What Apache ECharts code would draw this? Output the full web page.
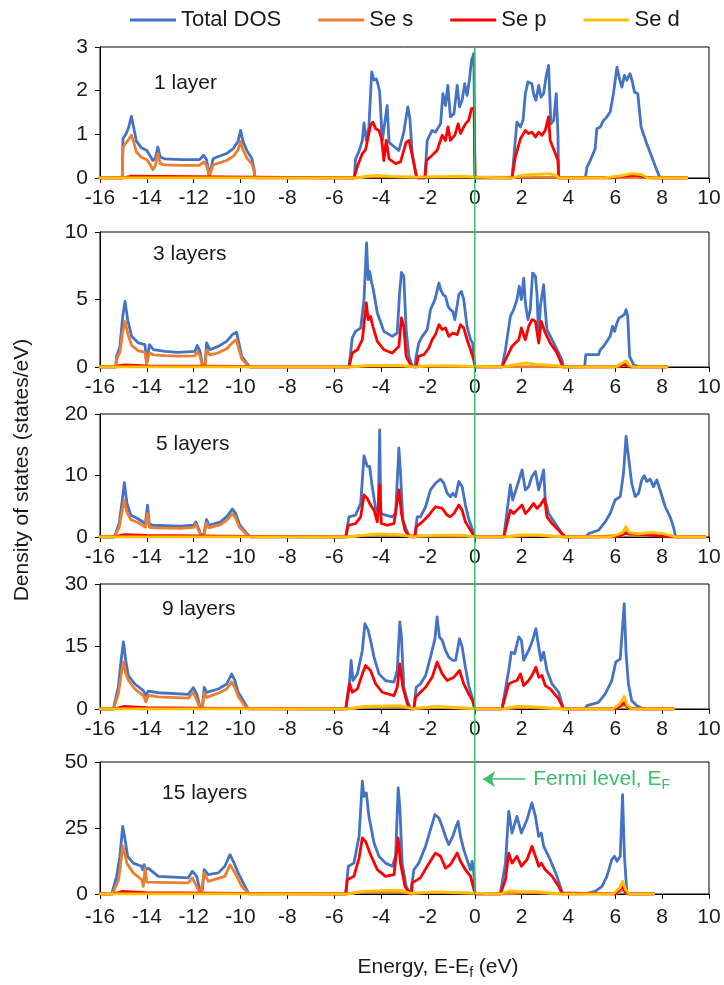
<!DOCTYPE html>
<html>
<head>
<meta charset="utf-8">
<script src="https://cdn.jsdelivr.net/npm/echarts@6/dist/echarts.min.js"></script>
<style>
  html, body { margin: 0; padding: 0; background: #fff; }
  #chart { width: 724px; height: 985px; }
</style>
</head>
<body>
<div id="chart"></div>
<script>
// panel settings
const panelLabels = ['1 layer', '3 layers', '5 layers', '9 layers', '15 layers'];
const yMax = [3, 10, 20, 30, 50];
const yStep = [1, 5, 10, 15, 25];
const seriesNames = ['Total DOS', 'Se s', 'Se p', 'Se d'];

// 1 layer
const total1 = [[-16,0],[-15.05,0],[-15.02,0.9],[-14.9,1.0],[-14.78,1.15],[-14.66,1.41],[-14.56,1.15],[-14.45,0.85],[-14.25,0.7],[-14.0,0.63],[-13.85,0.5],[-13.75,0.4],[-13.64,0.45],[-13.53,0.71],[-13.43,0.48],[-13.25,0.44],[-12.5,0.42],[-11.75,0.42],[-11.58,0.52],[-11.45,0.42],[-11.33,0.05],[-11.25,0.02],[-11.17,0.44],[-11.0,0.48],[-10.6,0.56],[-10.3,0.68],[-10.1,0.85],[-10.0,1.09],[-9.9,0.85],[-9.72,0.62],[-9.52,0.45],[-9.42,0.2],[-9.38,0],
  [-5.14,0],[-5.09,0.44],[-4.95,0.6],[-4.8,0.86],[-4.73,1.26],[-4.63,0.86],[-4.52,1.17],[-4.4,2.43],[-4.3,2.24],[-4.2,2.27],[-4.12,2.12],[-4.06,1.97],[-3.95,0.86],[-3.85,1.24],[-3.74,1.66],[-3.66,0.82],[-3.52,0.75],[-3.24,0.63],[-3.03,1.05],[-2.86,1.63],[-2.77,1.36],[-2.67,0.56],[-2.5,0.06],[-2.45,0],
  [-2.13,0],[-2.03,0.86],[-1.82,1.09],[-1.68,1.05],[-1.46,1.24],[-1.36,1.93],[-1.25,1.66],[-1.15,2.12],[-1.04,1.4],[-0.89,1.47],[-0.75,2.12],[-0.65,1.63],[-0.54,1.78],[-0.43,2.16],[-0.33,1.89],[-0.23,2.24],[-0.14,2.69],[-0.04,2.85],[0.01,0],
  [1.59,0],[1.73,0.86],[1.8,1.28],[1.95,1.17],[2.06,1.32],[2.16,1.93],[2.27,2.2],[2.44,2.16],[2.51,1.93],[2.61,1.78],[2.73,2.12],[2.83,1.85],[2.94,1.93],[3.04,2.31],[3.15,2.58],[3.25,1.24],[3.37,1.32],[3.48,1.93],[3.55,1.02],[3.58,0],
  [4.72,0],[4.79,0.25],[4.93,0.4],[5.14,0.67],[5.21,1.13],[5.36,1.17],[5.5,1.32],[5.64,1.4],[5.78,1.51],[5.92,1.93],[6.07,2.54],[6.16,2.31],[6.28,2.08],[6.39,2.35],[6.49,2.24],[6.63,2.39],[6.73,2.2],[6.82,1.97],[6.96,1.93],[7.1,1.17],[7.34,0.79],[7.56,0.48],[7.77,0.18],[7.91,0],[9.05,0]];
const s1 = [[-16,0],[-15.05,0],[-15.02,0.7],[-14.9,0.8],[-14.78,0.88],[-14.66,0.98],[-14.56,0.82],[-14.45,0.6],[-14.25,0.48],[-14.0,0.42],[-13.85,0.3],[-13.75,0.19],[-13.64,0.28],[-13.53,0.56],[-13.43,0.33],[-13.25,0.3],[-12.5,0.29],[-11.75,0.29],[-11.58,0.37],[-11.45,0.29],[-11.33,0.03],[-11.25,0.01],[-11.17,0.3],[-11.0,0.33],[-10.6,0.4],[-10.3,0.5],[-10.1,0.65],[-10.0,0.84],[-9.9,0.65],[-9.72,0.45],[-9.52,0.33],[-9.42,0.15],[-9.38,0],[-5.1,0],[-4.4,0.03],[-3.0,0.02],[0,0.02],[0.01,0],[9.05,0]];
const p1 = [[-16,0],[-15.05,0],[-15.0,0.03],[-14.7,0.04],[-9.45,0.02],[-9.38,0],
  [-5.16,0],[-5.01,0.27],[-4.8,0.56],[-4.66,0.65],[-4.45,1.21],[-4.35,1.28],[-4.23,1.13],[-4.09,1.09],[-3.98,0.9],[-3.88,0.4],[-3.78,0.86],[-3.66,0.44],[-3.38,0.33],[-3.17,0.37],[-2.93,0.82],[-2.81,0.86],[-2.67,0.52],[-2.5,0.06],[-2.45,0],
  [-2.13,0],[-2.06,0.4],[-1.82,0.52],[-1.61,0.63],[-1.39,0.98],[-1.25,0.86],[-1.14,1.17],[-1.04,0.86],[-0.85,0.98],[-0.71,1.24],[-0.61,1.02],[-0.4,1.24],[-0.26,1.32],[-0.14,1.59],[-0.03,1.6],[0.01,0],
  [1.59,0],[1.73,0.48],[1.95,0.9],[2.16,1.09],[2.3,1.02],[2.44,1.05],[2.59,0.94],[2.73,1.05],[2.87,0.98],[3.01,1.09],[3.15,1.4],[3.22,0.86],[3.44,0.56],[3.55,0.4],[3.58,0],
  [5.8,0],[6.2,0.04],[6.9,0.06],[7.3,0.02],[7.6,0],[9.05,0]];
const d1 = [[-16,0],[-5.1,0],[-4.6,0.04],[-4.2,0.06],[-3.5,0.03],[-2.5,0.02],[-1.5,0.03],[-0.5,0.04],[0,0.02],[0.01,0],[1.6,0],[2.0,0.06],[2.6,0.08],[3.2,0.1],[3.5,0.05],[3.6,0],[5.5,0],[6.2,0.05],[6.7,0.1],[7.1,0.08],[7.4,0],[9.05,0]];

// 3 layers
const total2 = [[-16,0],[-15.33,0],[-15.29,0.79],[-15.15,1.53],[-15.03,3.75],[-14.93,4.86],[-14.82,3.51],[-14.65,2.27],[-14.36,1.78],[-14.08,1.65],[-14.01,0.3],[-13.89,1.65],[-13.72,1.28],[-13.23,1.16],[-12.66,1.09],[-11.95,1.16],[-11.85,1.6],[-11.73,1.16],[-11.63,0.17],[-11.52,0.05],[-11.45,1.78],[-11.31,1.28],[-10.95,1.53],[-10.59,1.9],[-10.35,2.4],[-10.17,2.57],[-10.1,2.02],[-9.95,0.79],[-9.74,0.3],[-9.6,0],
  [-5.37,0],[-5.23,2.15],[-5.09,2.64],[-4.87,2.89],[-4.73,4.99],[-4.62,9.19],[-4.55,6.47],[-4.49,7.09],[-4.4,6.22],[-4.33,5.73],[-4.16,4.0],[-3.88,2.64],[-3.52,2.27],[-3.31,2.52],[-3.21,5.48],[-3.13,7.01],[-3.03,6.72],[-2.93,2.77],[-2.81,0.79],[-2.67,0.05],[-2.6,0],
  [-2.56,0],[-2.5,0.79],[-2.39,1.78],[-2.24,2.27],[-2.03,2.77],[-1.89,4.25],[-1.7,4.99],[-1.53,6.22],[-1.46,5.73],[-1.35,5.36],[-1.25,5.23],[-1.14,4.49],[-1.04,4.25],[-0.94,4.12],[-0.85,3.51],[-0.68,5.36],[-0.57,5.6],[-0.47,4.99],[-0.33,3.01],[-0.18,2.02],[-0.09,1.78],[0,0],
  [1.16,0],[1.31,1.28],[1.52,3.75],[1.66,4.25],[1.8,4.99],[1.9,5.98],[1.99,4.99],[2.09,6.59],[2.16,4.74],[2.27,3.51],[2.37,4.25],[2.47,6.96],[2.59,6.72],[2.66,5.36],[2.73,2.0],[2.8,4.5],[2.94,6.1],[3.01,4.25],[3.08,2.77],[3.3,2.02],[3.51,1.28],[3.72,0.54],[3.79,0],
  [4.69,0],[4.74,0.91],[5.28,0.91],[5.36,1.28],[5.5,1.53],[5.64,1.9],[5.78,2.27],[5.88,3.01],[5.97,2.64],[6.07,3.26],[6.16,3.63],[6.28,3.75],[6.38,3.88],[6.46,4.25],[6.53,3.75],[6.61,0.79],[6.78,0.17],[7.06,0],[8.2,0]];
const s2 = [[-16,0],[-15.33,0],[-15.29,0.6],[-15.15,1.1],[-15.03,2.6],[-14.93,3.37],[-14.82,2.5],[-14.65,1.6],[-14.36,1.2],[-14.08,1.1],[-14.01,0.2],[-13.89,1.05],[-13.72,0.9],[-13.23,0.85],[-12.66,0.8],[-11.95,0.82],[-11.85,1.15],[-11.73,0.82],[-11.63,0.1],[-11.52,0.03],[-11.45,1.25],[-11.31,0.9],[-10.95,1.05],[-10.59,1.35],[-10.35,1.8],[-10.17,2.02],[-10.1,1.5],[-9.95,0.6],[-9.74,0.2],[-9.6,0],[-5.4,0],[-4.62,0.08],[-3.13,0.06],[-1.5,0.05],[0,0.03],[0.01,0],[6.1,0],[6.45,0.2],[6.6,0],[8.2,0]];
const p2 = [[-16,0],[-15.33,0],[-15.2,0.1],[-14.93,0.15],[-14.0,0.08],[-9.7,0.05],[-9.6,0],
  [-5.37,0],[-5.23,1.04],[-5.01,1.28],[-4.8,2.02],[-4.63,4.74],[-4.55,3.51],[-4.45,3.75],[-4.35,3.01],[-4.16,1.9],[-3.88,1.28],[-3.52,1.04],[-3.24,1.53],[-3.13,3.63],[-3.03,3.01],[-2.93,0.79],[-2.74,0.17],[-2.6,0],
  [-2.5,0],[-2.41,0.79],[-2.17,0.91],[-1.96,1.41],[-1.82,2.02],[-1.68,2.4],[-1.53,3.14],[-1.39,2.77],[-1.25,2.89],[-1.11,2.27],[-0.94,2.52],[-0.75,2.4],[-0.61,3.14],[-0.47,2.89],[-0.33,2.02],[-0.18,1.28],[-0.04,0.54],[0.01,0],
  [1.16,0],[1.59,1.53],[1.88,2.02],[1.99,2.89],[2.16,2.02],[2.3,3.01],[2.44,3.51],[2.59,3.38],[2.73,1.78],[2.84,3.38],[3.01,2.52],[3.22,1.78],[3.51,1.04],[3.72,0.17],[3.76,0],
  [6.0,0],[6.4,0.2],[6.6,0],[8.2,0]];
const d2 = [[-16,0],[-5.3,0],[-4.6,0.1],[-3.2,0.12],[-2.6,0],[-2.5,0],[-2.0,0.08],[-1.0,0.1],[0,0.05],[0.01,0],[1.2,0],[1.5,0.1],[2.2,0.3],[2.6,0.2],[3.5,0.1],[3.8,0],[6.0,0],[6.3,0.3],[6.45,0.45],[6.6,0.1],[6.8,0],[8.2,0]];

// 5 layers
const total3 = [[-16,0],[-15.39,0],[-15.18,2.19],[-15.04,6.28],[-14.96,8.85],[-14.85,5.46],[-14.68,3.55],[-14.4,3.0],[-14.06,2.19],[-13.97,5.19],[-13.9,2.19],[-13.76,1.91],[-12.55,1.75],[-12.0,1.91],[-11.91,2.46],[-11.82,1.64],[-11.67,0.16],[-11.56,0.55],[-11.45,2.84],[-11.35,1.91],[-10.85,2.46],[-10.57,3.39],[-10.35,4.54],[-10.21,3.83],[-10.03,1.91],[-9.79,0.82],[-9.57,0],
  [-5.51,0],[-5.37,3.28],[-5.09,3.55],[-4.87,5.46],[-4.73,13.2],[-4.59,11.5],[-4.49,11.5],[-4.38,8.2],[-4.23,4.64],[-4.12,4.1],[-4.06,17.4],[-4.01,3.83],[-3.81,3.55],[-3.52,3.28],[-3.38,3.83],[-3.24,14.5],[-3.17,10.4],[-3.07,2.73],[-2.88,0.82],[-2.74,0],
  [-2.56,0],[-2.46,3.28],[-2.32,3.28],[-2.1,4.92],[-1.89,7.65],[-1.68,8.74],[-1.46,9.4],[-1.32,8.74],[-1.18,7.1],[-1.04,6.56],[-0.94,7.1],[-0.82,6.56],[-0.68,9.02],[-0.54,8.2],[-0.4,5.19],[-0.26,3.0],[-0.09,1.09],[0,0],
  [1.24,0],[1.52,8.47],[1.62,6.01],[1.8,8.2],[2.02,10.9],[2.16,7.65],[2.3,8.2],[2.44,9.84],[2.59,10.66],[2.73,7.65],[2.94,10.9],[3.01,6.01],[3.15,3.83],[3.44,2.19],[3.72,0.55],[3.89,0],
  [4.74,0],[4.86,0.55],[5.28,1.09],[5.57,2.46],[5.78,3.83],[5.99,6.01],[6.21,6.56],[6.35,10.4],[6.46,16.4],[6.56,13.1],[6.7,8.74],[6.85,6.56],[6.99,7.1],[7.13,9.29],[7.24,9.95],[7.34,9.02],[7.49,9.4],[7.63,8.2],[7.77,9.29],[7.91,7.65],[8.13,4.92],[8.34,3.28],[8.48,1.64],[8.58,0],[9.83,0]];
const s3 = [[-16,0],[-15.39,0],[-15.18,1.6],[-15.04,4.5],[-14.96,6.0],[-14.85,4.0],[-14.68,2.8],[-14.4,2.4],[-14.06,1.6],[-13.97,3.83],[-13.9,1.6],[-13.76,1.5],[-12.55,1.4],[-12.0,1.55],[-11.91,2.1],[-11.82,1.3],[-11.67,0.1],[-11.56,0.4],[-11.45,2.3],[-11.35,1.5],[-10.85,2.0],[-10.57,2.8],[-10.35,3.8],[-10.21,3.1],[-10.03,1.5],[-9.79,0.6],[-9.57,0],[-5.5,0],[-4.73,0.25],[-4.06,0.35],[-3.24,0.25],[-2.0,0.15],[0,0.1],[0.01,0],[1.3,0],[2.5,0.25],[3.8,0],[5.0,0],[6.3,0.3],[6.46,0.9],[6.6,0.3],[7.5,0.3],[8.5,0.1],[8.6,0],[9.83,0]];
const p3 = [[-16,0],[-15.39,0],[-15.2,0.2],[-14.96,0.4],[-14.0,0.25],[-9.65,0.1],[-9.57,0],
  [-5.51,0],[-5.4,1.91],[-5.09,2.19],[-4.87,3.28],[-4.73,6.83],[-4.59,6.28],[-4.45,5.19],[-4.3,4.37],[-4.16,2.46],[-4.06,8.47],[-3.99,2.19],[-3.74,1.91],[-3.45,2.19],[-3.24,7.65],[-3.13,3.83],[-2.98,1.09],[-2.81,0.16],[-2.74,0],
  [-2.56,0],[-2.5,1.64],[-2.24,2.46],[-1.96,3.55],[-1.68,4.92],[-1.39,4.64],[-1.18,3.55],[-1.04,3.28],[-0.89,3.83],[-0.68,5.19],[-0.54,4.37],[-0.4,2.46],[-0.18,1.09],[0,0],
  [1.24,0],[1.52,4.37],[1.66,3.83],[1.8,4.37],[2.02,5.19],[2.16,3.83],[2.3,4.37],[2.51,5.46],[2.66,4.64],[2.8,5.19],[2.98,6.28],[3.08,3.28],[3.3,2.19],[3.58,1.09],[3.86,0],
  [6.0,0],[6.46,0.6],[7.5,0.3],[8.5,0],[9.83,0]];
const d3 = [[-16,0],[-5.4,0],[-4.73,0.3],[-4.06,0.5],[-3.24,0.4],[-2.6,0],[-2.5,0.1],[-1.5,0.3],[-0.5,0.3],[0,0],[1.3,0],[2.0,0.4],[2.8,0.3],[3.8,0],[5.8,0],[6.3,0.7],[6.46,1.7],[6.6,0.7],[7.0,0.5],[7.5,0.7],[8.0,0.6],[8.5,0.1],[8.6,0],[9.83,0]];

// 9 layers
const total4 = [[-16,0],[-15.43,0],[-15.22,5.2],[-15.1,11.6],[-15.0,16.1],[-14.9,11.6],[-14.79,8.0],[-14.51,6.0],[-14.15,4.4],[-14.04,3.2],[-13.94,4.3],[-13.51,3.9],[-12.23,3.5],[-12.02,5.1],[-11.87,3.6],[-11.73,0.6],[-11.63,0.2],[-11.55,5.2],[-11.45,4.0],[-10.95,4.8],[-10.59,6.0],[-10.38,8.4],[-10.24,6.8],[-10.1,4.0],[-9.88,2.0],[-9.67,0],
  [-5.51,0],[-5.34,6.83],[-5.28,11.65],[-5.2,6.83],[-5.01,8.43],[-4.8,14.06],[-4.69,20.5],[-4.55,18.9],[-4.45,16.5],[-4.3,12.45],[-4.09,8.43],[-3.81,6.83],[-3.45,6.43],[-3.31,9.24],[-3.2,20.9],[-3.13,17.3],[-3.03,5.22],[-2.88,2.01],[-2.74,0],
  [-2.6,0],[-2.5,5.22],[-2.32,6.02],[-2.1,8.03],[-1.89,12.45],[-1.7,16.9],[-1.61,22.1],[-1.51,17.3],[-1.39,16.5],[-1.25,14.06],[-1.11,12.45],[-0.94,11.65],[-0.82,11.65],[-0.65,16.9],[-0.54,14.9],[-0.4,10.04],[-0.26,5.62],[-0.11,2.81],[0,0],
  [1.16,0],[1.45,9.24],[1.56,13.65],[1.7,13.25],[1.88,17.3],[1.99,16.5],[2.09,11.65],[2.3,14.06],[2.47,16.5],[2.61,19.3],[2.73,14.9],[2.83,11.65],[2.94,13.65],[3.08,9.24],[3.3,6.02],[3.58,4.02],[3.79,0],
  [4.69,0],[4.79,0.8],[5.28,1.6],[5.57,3.61],[5.85,6.83],[6.02,11.24],[6.21,12.05],[6.28,12.45],[6.38,25.3],[6.46,13.25],[6.56,6.02],[6.7,2.01],[6.92,0.8],[7.2,0],[8.48,0]];
const s4 = [[-16,0],[-15.43,0],[-15.22,3.5],[-15.1,8.0],[-15.0,11.3],[-14.9,8.5],[-14.79,6.9],[-14.51,4.8],[-14.15,3.2],[-14.04,1.7],[-13.94,3.3],[-13.51,2.9],[-12.23,2.6],[-12.02,4.0],[-11.87,2.2],[-11.73,0.4],[-11.63,0.1],[-11.55,4.0],[-11.45,2.8],[-10.95,3.8],[-10.59,4.8],[-10.38,6.5],[-10.24,5.2],[-10.1,3.0],[-9.88,1.2],[-9.67,0],[-5.5,0],[-4.69,0.5],[-3.2,0.5],[-2.6,0.1],[-1.61,0.4],[0,0.1],[0.01,0],[1.2,0],[2.0,0.4],[3.8,0],[6.0,0],[6.38,1.0],[6.6,0],[8.48,0]];
const p4 = [[-16,0],[-15.43,0],[-15.2,0.3],[-15.0,0.6],[-14.0,0.3],[-9.7,0.1],[-9.67,0],
  [-5.51,0],[-5.34,6.02],[-5.23,4.02],[-5.01,4.82],[-4.8,8.43],[-4.66,10.44],[-4.45,9.24],[-4.23,6.02],[-3.95,4.02],[-3.45,3.21],[-3.31,5.22],[-3.2,10.84],[-3.07,5.22],[-2.88,1.2],[-2.74,0],
  [-2.6,0],[-2.53,2.81],[-2.1,5.22],[-1.82,7.63],[-1.61,11.24],[-1.39,8.43],[-1.18,6.83],[-0.89,7.63],[-0.65,9.24],[-0.47,6.02],[-0.26,3.61],[-0.09,2.01],[0,0],
  [1.16,0],[1.45,6.02],[1.59,6.43],[1.8,6.83],[1.95,8.43],[2.09,5.62],[2.3,6.83],[2.44,8.03],[2.61,10.04],[2.73,7.63],[2.87,8.03],[3.01,5.62],[3.22,4.82],[3.58,2.41],[3.79,0],
  [6.0,0],[6.38,1.5],[6.6,0.2],[7.0,0],[8.48,0]];
const d4 = [[-16,0],[-5.4,0],[-4.69,0.6],[-3.2,0.8],[-2.6,0],[-2.5,0.2],[-1.61,0.6],[0,0.1],[0.01,0],[1.2,0],[1.8,0.7],[2.6,0.5],[3.8,0],[5.9,0],[6.2,1.3],[6.38,3.0],[6.5,1.0],[6.7,0],[8.48,0]];

// 15 layers
const total5 = [[-16,0],[-15.5,0],[-15.29,6.7],[-15.15,14.3],[-15.03,25.6],[-14.93,20.6],[-14.82,14.3],[-14.58,11.7],[-14.22,10.5],[-14.18,9.2],[-14.12,11.1],[-14.04,9.2],[-13.94,9.8],[-13.51,6.7],[-12.23,6.1],[-12.06,8.6],[-11.87,6.7],[-11.73,1.0],[-11.63,1.6],[-11.55,9.2],[-11.38,7.3],[-10.95,8.0],[-10.67,10.5],[-10.45,14.9],[-10.31,12.4],[-10.1,8.0],[-9.81,2.9],[-9.64,0],
  [-5.51,0],[-5.4,10.5],[-5.16,11.7],[-4.94,21.8],[-4.8,42.7],[-4.73,37.0],[-4.63,38.3],[-4.52,29.4],[-4.3,19.3],[-4.09,14.3],[-3.81,11.7],[-3.52,10.5],[-3.38,14.3],[-3.27,40.2],[-3.2,33.2],[-3.1,11.7],[-2.93,2.9],[-2.74,0],
  [-2.7,0],[-2.6,9.2],[-2.39,11.7],[-2.1,18.1],[-1.89,24.4],[-1.7,30.1],[-1.53,28.8],[-1.39,25.6],[-1.25,21.8],[-1.11,18.7],[-0.94,21.8],[-0.82,25.0],[-0.71,27.5],[-0.61,21.8],[-0.47,16.8],[-0.33,13.0],[-0.18,9.2],[-0.11,12.4],[-0.04,8.0],[0.01,0],
  [1.09,0],[1.31,11.7],[1.45,31.3],[1.59,23.1],[1.8,29.4],[1.99,23.1],[2.23,28.2],[2.44,34.5],[2.59,29.4],[2.73,21.8],[2.84,23.1],[2.94,18.1],[3.22,13.0],[3.51,6.7],[3.72,1.0],[3.76,0],
  [4.64,0],[5.14,1.0],[5.43,2.9],[5.64,6.7],[5.85,13.0],[5.97,14.3],[6.07,12.4],[6.21,14.3],[6.31,37.6],[6.39,14.3],[6.49,1.0],[6.56,0],[7.63,0]];
const s5 = [[-16,0],[-15.47,0],[-15.22,5.0],[-15.15,9.0],[-15.03,18.1],[-14.93,15.0],[-14.86,11.7],[-14.58,8.0],[-14.22,5.4],[-14.15,2.9],[-14.08,9.8],[-14.0,4.5],[-13.51,4.4],[-12.23,4.2],[-12.06,6.1],[-11.8,1.6],[-11.7,0.5],[-11.55,8.0],[-11.38,4.8],[-10.67,6.7],[-10.45,11.1],[-10.24,8.0],[-9.95,2.9],[-9.64,0],[-5.5,0],[-4.8,0.8],[-3.27,0.8],[-2.7,0.2],[-1.7,0.6],[0,0.2],[0.01,0],[1.1,0],[2.4,0.5],[3.7,0],[6.0,0],[6.31,1.5],[6.5,0],[7.63,0]];
const p5 = [[-16,0],[-15.5,0],[-15.2,0.5],[-15.03,1.0],[-14.0,0.5],[-9.7,0.2],[-9.64,0],
  [-5.51,0],[-5.44,5.4],[-5.16,6.7],[-4.94,13.6],[-4.8,21.2],[-4.66,19.9],[-4.45,14.9],[-4.16,9.2],[-3.81,6.7],[-3.45,7.3],[-3.27,21.2],[-3.17,11.7],[-2.98,2.9],[-2.81,0.4],[-2.74,0],
  [-2.7,0],[-2.67,4.2],[-2.32,6.1],[-2.03,10.5],[-1.68,15.5],[-1.46,14.3],[-1.25,9.8],[-1.04,11.1],[-0.75,15.5],[-0.61,12.4],[-0.4,9.2],[-0.18,6.7],[-0.11,7.3],[0.01,0],
  [1.09,0],[1.31,5.4],[1.45,15.5],[1.59,11.7],[1.8,14.3],[1.99,10.5],[2.23,13.0],[2.44,18.1],[2.59,14.3],[2.73,10.5],[2.84,11.7],[3.01,9.2],[3.3,6.7],[3.58,2.9],[3.72,0.4],[3.76,0],
  [6.0,0],[6.2,2.0],[6.31,3.0],[6.45,0.5],[6.6,0],[7.63,0]];
const d5 = [[-16,0],[-5.4,0],[-4.8,1.0],[-3.27,1.5],[-2.7,0.2],[-1.7,0.8],[0,0.3],[0.01,0],[1.1,0],[1.5,1.2],[2.0,0.8],[2.5,1.0],[3.7,0],[5.9,0],[6.2,2.5],[6.31,4.8],[6.45,1.5],[6.6,0],[7.63,0]];

// Fermi level arrow (energy from, energy to, DOS level) in the 15 layers panel
const fermiArrow = [2.15, 0.35, 43.5];

const panels = [
  [total1, s1, p1, d1],
  [total2, s2, p2, d2],
  [total3, s3, p3, d3],
  [total4, s4, p4, d4],
  [total5, s5, p5, d5]
];

const colors = ['#4472C4', '#ED7D31', '#FF0000', '#FFC000'];
const font = "'Liberation Sans', Arial, sans-serif";
const textColor = '#1a1a1a';
const green = '#3DBE6E';

const gridTop = [47, 232, 414, 584, 762];
const gridHeight = [131, 135, 123, 125, 132];
const labelTop = [73, 244, 434, 599, 783];
const labelLeft = [154, 153, 156, 162, 162];

const chart = echarts.init(document.getElementById('chart'));

const grids = [], xAxes = [], yAxes = [], series = [], graphics = [];

panels.forEach(function (panel, i) {
  grids.push({
    left: 100, right: 15, top: gridTop[i], height: gridHeight[i],
    show: true, borderColor: '#000', borderWidth: 1, backgroundColor: 'transparent'
  });
  xAxes.push({
    type: 'value', gridIndex: i, min: -16, max: 10, interval: 2,
    axisLine: { show: true, onZero: false, lineStyle: { color: '#000', width: 1 } },
    axisTick: { show: true, length: 5, lineStyle: { color: '#000' } },
    axisLabel: { fontSize: 21, fontFamily: font, color: textColor, margin: i === 4 ? 13 : 10 },
    splitLine: { show: false }
  });
  yAxes.push({
    type: 'value', gridIndex: i, min: 0, max: yMax[i], interval: yStep[i],
    axisLine: { show: true, onZero: false, lineStyle: { color: '#000', width: 1 } },
    axisTick: { show: true, length: 5, lineStyle: { color: '#000' } },
    axisLabel: { fontSize: 21, fontFamily: font, color: textColor, margin: 12 },
    splitLine: { show: false }
  });
  panel.forEach(function (data, j) {
    series.push({
      type: 'line', name: seriesNames[j], data: data,
      xAxisIndex: i, yAxisIndex: i,
      symbol: 'none', showSymbol: false, z: 2 + j,
      lineStyle: { color: colors[j], width: 2.8, join: 'round', cap: 'round' },
      itemStyle: { color: colors[j] }
    });
  });
  graphics.push({
    type: 'text', left: labelLeft[i], top: labelTop[i],
    style: { text: panelLabels[i], fontSize: 21, fontFamily: font, fill: textColor }
  });
});

// overlay grid for the Fermi level line crossing all panels
grids.push({ left: 100, right: 15, top: gridTop[0], bottom: 985 - (gridTop[4] + gridHeight[4]) });
xAxes.push({ type: 'value', gridIndex: 5, min: -16, max: 10, show: false });
yAxes.push({ type: 'value', gridIndex: 5, min: 0, max: 1, show: false });
series.push({
  type: 'line', name: 'Fermi', xAxisIndex: 5, yAxisIndex: 5,
  data: [[0, 0], [0, 1]], symbol: 'none', silent: true, z: 20,
  lineStyle: { color: green, width: 1.5 }
});
series.push({
  type: 'line', name: 'Fermi arrow', xAxisIndex: 4, yAxisIndex: 4, data: [],
  markLine: {
    silent: true, symbol: ['none', 'arrow'], symbolSize: 12,
    lineStyle: { color: green, width: 1.5, type: 'solid' },
    label: {
      show: true, position: 'start', distance: 8,
      formatter: 'Fermi level, E{sub|F}',
      color: green, fontSize: 21, fontFamily: font,
      rich: { sub: { fontSize: 14, color: green, fontFamily: font, padding: [12, 0, 0, 0] } }
    },
    data: [[{ coord: [fermiArrow[0], fermiArrow[2]] }, { coord: [fermiArrow[1], fermiArrow[2]] }]]
  }
});

graphics.push({
  type: 'text', x: 22, y: 470, rotation: Math.PI / 2,
  style: {
    text: 'Density of states (states/eV)', fontSize: 21, fontFamily: font, fill: textColor,
    align: 'center', verticalAlign: 'middle'
  }
});
graphics.push({
  type: 'text', x: 438, y: 967,
  style: {
    text: 'Energy, E-E{sub|f} (eV)', fontSize: 21, fontFamily: font, fill: textColor,
    align: 'center', verticalAlign: 'middle',
    rich: { sub: { fontSize: 14, fontFamily: font, fill: textColor, padding: [12, 0, 0, 0] } }
  }
});

chart.setOption({
  animation: false,
  backgroundColor: '#fff',
  legend: {
    data: seriesNames, left: 125, top: 4,
    icon: 'rect', itemWidth: 46, itemHeight: 3, itemGap: 37,
    textStyle: { fontSize: 22, fontFamily: font, color: textColor }
  },
  grid: grids,
  xAxis: xAxes,
  yAxis: yAxes,
  series: series,
  graphic: graphics
});
</script>
</body>
</html>
